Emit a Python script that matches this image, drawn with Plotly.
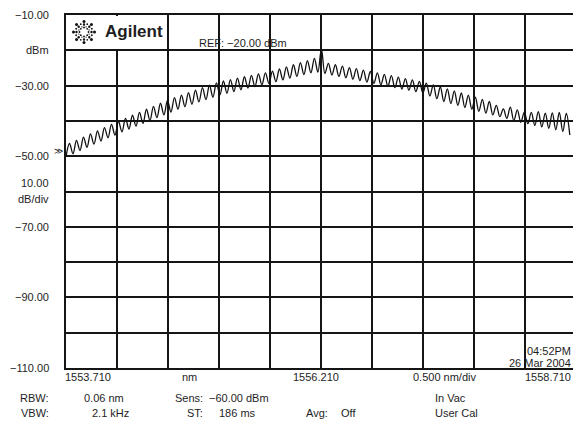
import plotly.graph_objects as go
import math

# ---------------- data ----------------
start_nm = 1553.710
span_nm = 5.0
sample_step_nm = 0.0343          # half ripple period (trough -> peak)

trough_dbm = [-50.2, -49.3, -48.4, -47.5, -46.6, -45.7, -44.8, -44.0, -43.1, -42.3,
              -41.5, -40.7, -39.9, -39.1, -38.3, -37.5, -36.7, -36.0, -35.3, -34.6,
              -34.0, -33.3, -32.6, -32.2, -31.7, -31.2, -30.7, -30.3, -29.8, -29.4,
              -28.9, -28.4, -27.9, -27.4, -26.9, -26.4, -26.2, -26.6, -27.0, -27.4,
              -27.8, -28.2, -28.6, -29.0, -29.4, -29.8, -30.2, -30.6, -31.0, -31.3,
              -31.7, -32.1, -32.9, -33.7, -34.5, -35.1, -35.6, -36.2, -36.7, -37.3,
              -37.8, -38.3, -38.8, -39.3, -39.9, -40.4, -40.8, -41.3, -41.7, -42.1,
              -42.5, -43.0, -44.0]
peak_dbm = [-46.4, -45.5, -44.6, -43.7, -42.8, -41.9, -41.0, -40.1, -39.3, -38.4,
            -37.6, -36.7, -35.9, -35.0, -34.2, -33.4, -32.7, -32.0, -31.3, -30.6,
            -29.9, -29.2, -28.7, -28.3, -27.9, -27.5, -27.1, -26.7, -26.4, -25.9,
            -25.3, -24.7, -24.1, -23.5, -22.9, -22.3, -19.6, -23.7, -24.1, -24.5,
            -24.9, -25.2, -25.6, -26.0, -26.4, -26.8, -27.2, -27.6, -28.0, -28.4,
            -28.8, -29.3, -29.8, -30.4, -30.9, -31.5, -32.1, -32.7, -33.3, -33.9,
            -34.5, -35.6, -36.6, -36.1, -36.9, -37.5, -37.6, -37.4, -37.8, -37.7,
            -37.6, -37.9]

y_tick_labels = [(-10, "\u221210.00"), (-20, "dBm"), (-30, "\u221230.00"),
                 (-50, "\u221250.00"), (-70, "\u221270.00"), (-90, "\u221290.00"),
                 (-110, "\u2212110.00")]

# interleave trough / peak samples
trace_y = []
for i, t in enumerate(trough_dbm):
    trace_y.append(t)
    if i < len(peak_dbm):
        trace_y.append(peak_dbm[i])
trace_x = [start_nm + i * sample_step_nm for i in range(len(trace_y))]

# ---------------- figure ----------------
W, H = 573, 421
L, T, B = 66, 15, 53
plot_w = W - L
plot_h = H - T - B
x_end = start_nm + span_nm * plot_w / 510.0


def px(xp):
    return (xp - L) / plot_w


def py(yp):
    return (H - B - yp) / plot_h


fig = go.Figure()
fig.add_trace(go.Scatter(x=trace_x, y=trace_y, mode="lines",
                         line=dict(color="#111111", width=1.3, shape="spline", smoothing=1.0),
                         hoverinfo="skip", showlegend=False))

FONT = "Liberation Sans, Arial, sans-serif"
TXT = "#1e1e1e"
ann = []


def label(xp, yp, text, anchor="left", size=11, **kw):
    ann.append(dict(x=px(xp), y=py(yp), xref="paper", yref="paper", text=text,
                    showarrow=False, xanchor=anchor, yanchor="middle",
                    font=dict(family=FONT, size=size, color=TXT), **kw))


# y-axis labels (placed at the level they belong to)
for val, txt in y_tick_labels:
    ann.append(dict(x=px(51), y=val, xref="paper", yref="y", text=txt, showarrow=False,
                    xanchor="right", yanchor="middle",
                    font=dict(family=FONT, size=11, color=TXT)))
label(51, 183, "10.00", anchor="right")
label(51, 199, "dB/div", anchor="right")
label(52, 151, "\u226b", size=9)

# bottom labels
label(63, 377, "1553.710")
label(180, 377, "nm")
label(291, 377, "1556.210")
label(411, 377, "0.500 nm/div")
label(573, 377, "1558.710", anchor="right")
label(51, 398, "RBW:", anchor="right")
label(51, 413, "VBW:", anchor="right")
label(82, 398, "0.06 nm")
label(90, 413, "2.1 kHz")
label(173, 398, "Sens:")
label(185, 413, "ST:")
label(207, 398, "\u221260.00 dBm")
label(217, 413, "186 ms")
label(304, 413, "Avg:")
label(339, 413, "Off")
label(433, 398, "In Vac")
label(433, 413, "User Cal")
label(573, 351, "04:52PM", anchor="right")
label(573, 363, "26 Mar 2004", anchor="right")
label(197, 43, "REF: \u221220.00 dBm")
label(103, 32, "<b>Agilent</b>", size=17)

shapes = []
# white box behind logo
shapes.append(dict(type="rect", xref="paper", yref="paper", x0=px(67), x1=px(166),
                   y0=py(49), y1=py(16), fillcolor="white", line=dict(width=0), layer="above"))
# starburst logo made of dots
cx, cy = 84, 32
for k in range(16):
    a = k * math.pi / 8
    radii = [(4.5, 0.9), (7.5, 1.2), (10.5, 1.5)] if k % 2 == 0 else [(5.5, 0.7), (8.5, 0.9)]
    for r, s in radii:
        dx, dy = r * math.cos(a), r * math.sin(a)
        shapes.append(dict(type="circle", xref="paper", yref="paper",
                           xsizemode="pixel", ysizemode="pixel",
                           xanchor=px(cx), yanchor=py(cy),
                           x0=dx - s, x1=dx + s, y0=-dy - s, y1=-dy + s,
                           fillcolor="#111111", line=dict(width=0), layer="above"))

fig.update_layout(
    width=W, height=H,
    margin=dict(l=L, r=0, t=T, b=B),
    paper_bgcolor="white", plot_bgcolor="white",
    annotations=ann, shapes=shapes,
    xaxis=dict(range=[start_nm, x_end], dtick=0.5, tick0=start_nm, showgrid=True,
               gridcolor="#151515", gridwidth=1.6, showticklabels=False, ticks="",
               zeroline=False, showline=True, linecolor="#151515", linewidth=1.6, mirror=True),
    yaxis=dict(range=[-110, -10], dtick=10, tick0=-110, showgrid=True,
               gridcolor="#151515", gridwidth=1.6, showticklabels=False, ticks="",
               zeroline=False, showline=True, linecolor="#151515", linewidth=1.6, mirror=False),
)

fig.write_html("out.html")
